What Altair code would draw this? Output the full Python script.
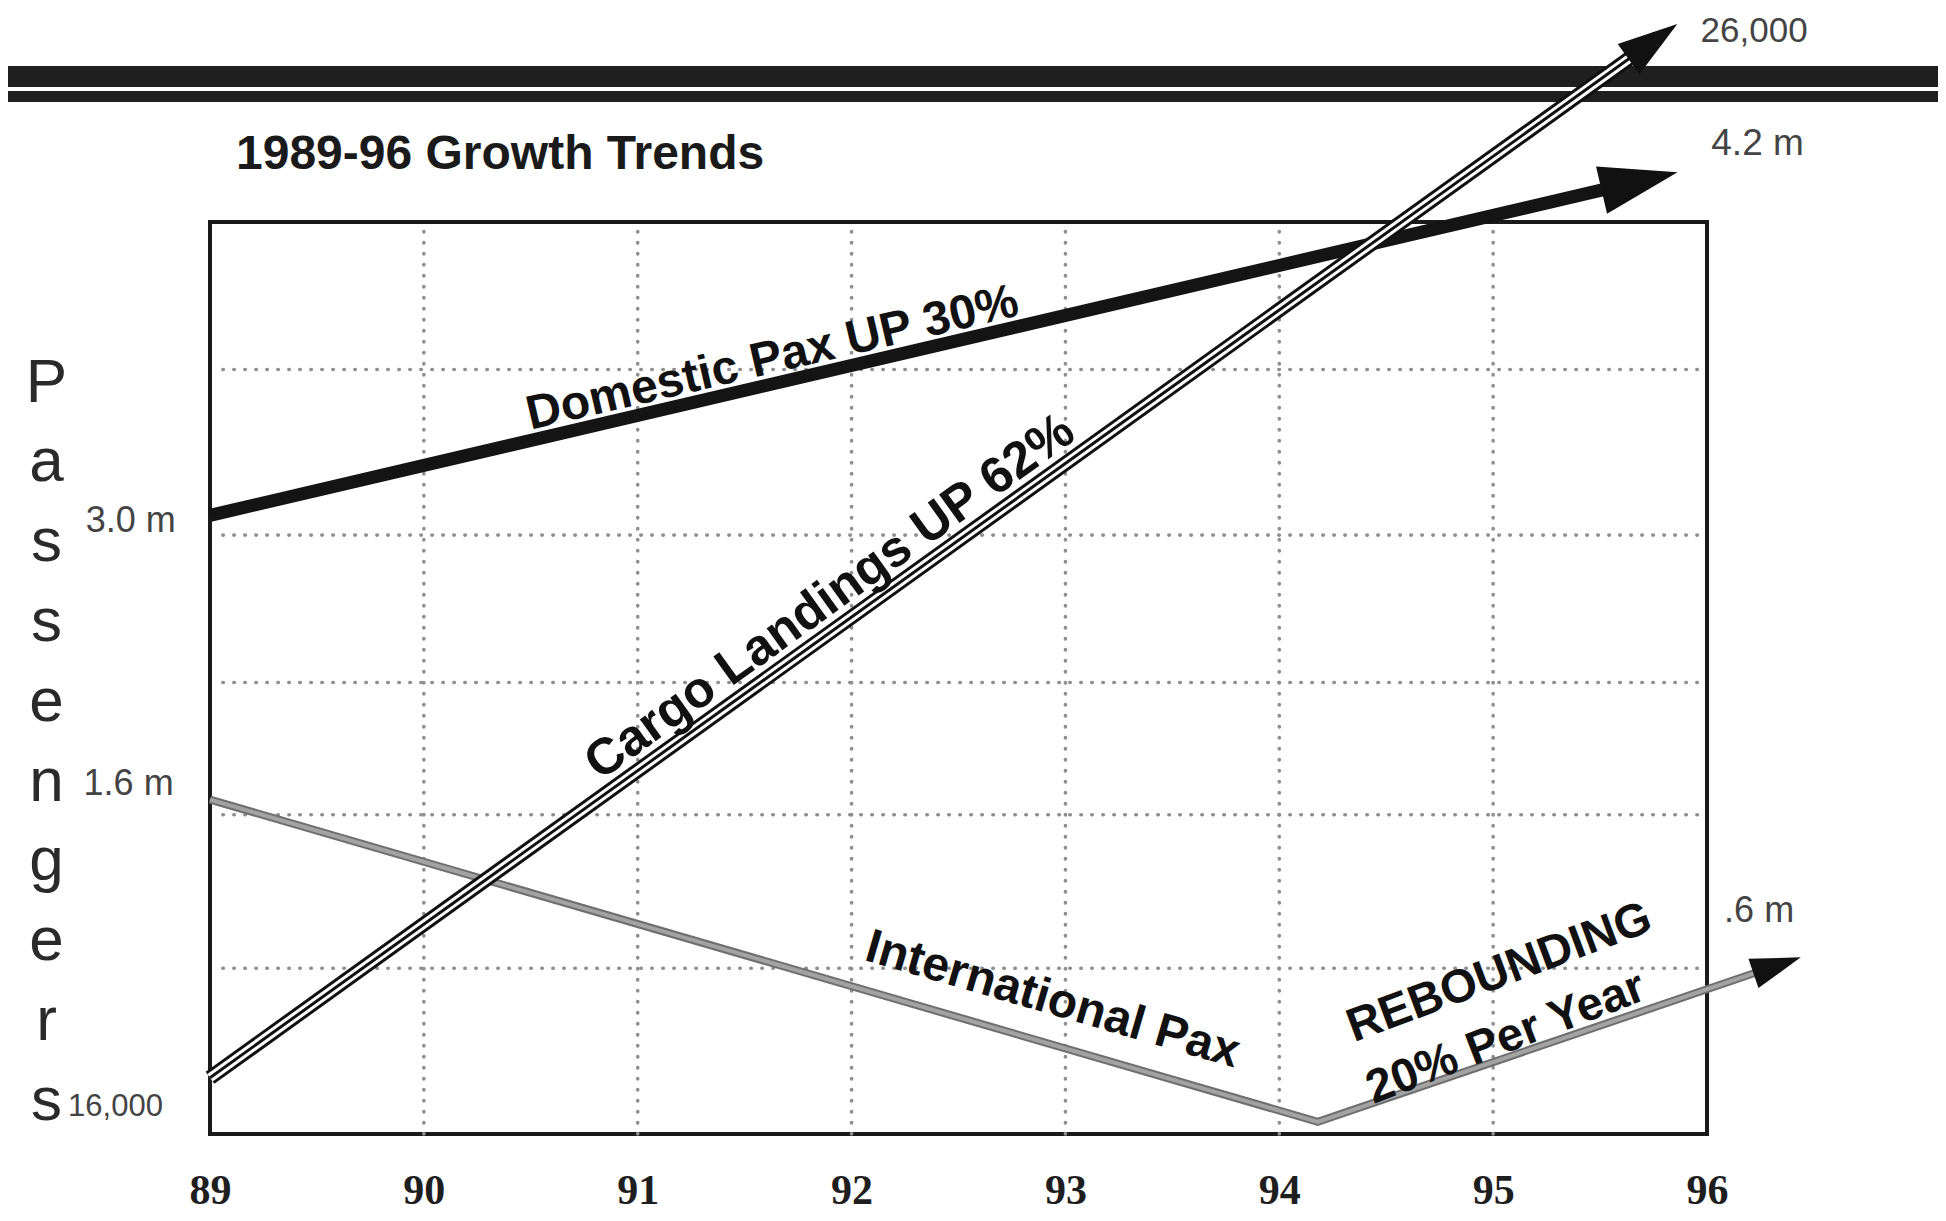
import math
import altair as alt
import pandas as pd

# ---------------- data (y = chart grid units, 0..6) ----------------
year_ticks = [89, 90, 91, 92, 93, 94, 95, 96]
years_grid = [90, 91, 92, 93, 94, 95]
levels_grid = [1.09, 2.10, 2.97, 3.94, 5.03]

domestic_x = [89.0, 95.72]
domestic_y = [4.07, 6.28]
cargo_x = [89.0, 95.77]
cargo_y = [0.37, 7.21]
intl_x = [89.0, 94.18, 96.35]
intl_y = [2.20, 0.08, 1.12]

start_labels = ["3.0 m", "1.6 m", "16,000"]
start_label_x = [88.84, 88.83, 88.78]
start_label_y = [4.03, 2.30, 0.18]
start_label_size = [36, 36, 31]

end_labels = ["26,000", "4.2 m", ".6 m"]
end_label_x = [95.97, 96.02, 96.08]
end_label_y = [7.255, 6.51, 1.47]
end_label_size = [35, 37, 36]

notes = ["Domestic Pax  UP 30%", "Cargo Landings  UP 62%", "International Pax",
         "REBOUNDING", "20% Per Year"]
note_x = [91.63, 91.90, 92.94, 95.03, 95.06]
note_y = [5.10, 3.53, 0.88, 1.06, 0.63]
note_size = [48, 51, 48, 47, 47]
note_tilt = [0.0, 0.0, 0.0, -1.7, -2.2]

band_y = [6.957, 6.826]
band_w = [21, 11]

title_text = "1989-96 Growth Trends"
axis_letters = list("Passengers")

# ---------------- layout ----------------
W, H = 1497, 912
XD, YD = [89, 96], [0, 6]
XS = alt.Scale(domain=XD, nice=False, zero=False)
YS = alt.Scale(domain=YD, nice=False, zero=False)


def px_angle(x0, y0, x1, y1):
    dx = (x1 - x0) * W / (XD[1] - XD[0])
    dy = -(y1 - y0) * H / (YD[1] - YD[0])
    return math.degrees(math.atan2(dy, dx)) % 360


XAXIS = alt.Axis(values=year_ticks, format="d", title=None, grid=False, domain=False,
                 ticks=False, tickSize=0, labelFont="Liberation Serif", labelFontWeight="bold",
                 labelFontSize=42, labelColor="#1e1e1e", labelBaseline="alphabetic",
                 labelPadding=69, labelFlush=False, labelOverlap=False)
YAXIS = alt.Axis(labels=False, ticks=False, domain=False, grid=False,
                 title=axis_letters, titleAngle=0, titleAlign="center",
                 titleBaseline="alphabetic", titleX=-164, titleY=179, titleLineHeight=79.8,
                 titleFont="Liberation Sans", titleFontSize=62, titleFontWeight="normal",
                 titleColor="#2a2a2a")


def X(f):
    return alt.X(f, type="quantitative", scale=XS, axis=XAXIS)


def Y(f):
    return alt.Y(f, type="quantitative", scale=YS, axis=YAXIS)


# ---------------- tables ----------------
rows = []
for name, xs, ys in [("intl", intl_x, intl_y), ("dom", domestic_x, domestic_y),
                     ("cargo", cargo_x, cargo_y)]:
    for i, (a, b) in enumerate(zip(xs, ys)):
        rows.append({"s": name, "i": i, "x": a, "y": b})
series = pd.DataFrame(rows)

ang_dom = px_angle(domestic_x[-2], domestic_y[-2], domestic_x[-1], domestic_y[-1])
ang_cargo = px_angle(cargo_x[-2], cargo_y[-2], cargo_x[-1], cargo_y[-1])
ang_intl_up = px_angle(intl_x[-2], intl_y[-2], intl_x[-1], intl_y[-1])
ang_intl_down = px_angle(intl_x[0], intl_y[0], intl_x[1], intl_y[1])

heads = pd.DataFrame({
    "x": [domestic_x[-1], cargo_x[-1], intl_x[-1]],
    "y": [domestic_y[-1], cargo_y[-1], intl_y[-1]],
    "a": [ang_dom, ang_cargo, ang_intl_up],
    "sz": [6084, 3600, 2500],
})

note_base = [ang_dom, ang_cargo, ang_intl_down, ang_intl_up, ang_intl_up]
notes_df = pd.DataFrame({
    "t": notes, "x": note_x, "y": note_y, "fs": note_size,
    "a": [(b + t) % 360 for b, t in zip(note_base, note_tilt)],
})

starts_df = pd.DataFrame({"t": start_labels, "x": start_label_x, "y": start_label_y,
                          "fs": start_label_size})
ends_df = pd.DataFrame({"t": end_labels, "x": end_label_x, "y": end_label_y,
                        "fs": end_label_size})
title_df = pd.DataFrame({"t": [title_text]})

vgrid = pd.DataFrame({"x": years_grid, "y0": [YD[0]] * len(years_grid),
                      "y1": [YD[1]] * len(years_grid)})
hgrid = pd.DataFrame({"y": levels_grid, "x0": [89.06] * len(levels_grid),
                      "x1": [96.0] * len(levels_grid)})
bands = pd.DataFrame({"y": band_y, "w": band_w, "x0": [88.0, 88.0], "x1": [97.4, 97.4]})

DOT = dict(strokeDash=[0.5, 10.5], strokeCap="round", strokeWidth=3.6, color="#8f8f8f")

vg = alt.Chart(vgrid).mark_rule(**DOT).encode(x=X("x"), y=Y("y0"), y2="y1")
hg = alt.Chart(hgrid).mark_rule(**DOT).encode(y=Y("y"), x=X("x0"), x2="x1")
band = alt.Chart(bands).mark_rule(color="#1f1f1f").encode(
    y=Y("y"), x=X("x0"), x2="x1", strokeWidth=alt.StrokeWidth("w:Q", scale=None))


def line(name, **kw):
    return alt.Chart(series).transform_filter(alt.datum.s == name).mark_line(
        strokeCap="butt", strokeJoin="miter", **kw).encode(
        x=X("x"), y=Y("y"), order="i:Q")


intl_a = line("intl", color="#6f6f6f", strokeWidth=8)
intl_b = line("intl", color="#a3a3a3", strokeWidth=4)
dom = line("dom", color="#141414", strokeWidth=13)
cargo_a = line("cargo", color="#111111", strokeWidth=15)
cargo_b = line("cargo", color="#ffffff", strokeWidth=9)
cargo_c = line("cargo", color="#111111", strokeWidth=3)

arrow_path = "M0.8,0L-1.2,-0.62L-1.2,0.62Z"
arrows = alt.Chart(heads).mark_point(shape=arrow_path, filled=True, color="#111111",
                                     opacity=1, strokeWidth=0).encode(
    x=X("x"), y=Y("y"), angle=alt.Angle("a:Q", scale=None),
    size=alt.Size("sz:Q", scale=None))

note_txt = alt.Chart(notes_df).mark_text(font="Liberation Sans", fontWeight="bold",
                                         align="center", baseline="middle",
                                         color="#111111").encode(
    x=X("x"), y=Y("y"), text="t:N", angle=alt.Angle("a:Q", scale=None),
    size=alt.Size("fs:Q", scale=None))

start_txt = alt.Chart(starts_df).mark_text(font="Liberation Sans", align="right",
                                           baseline="middle", color="#444444").encode(
    x=X("x"), y=Y("y"), text="t:N", size=alt.Size("fs:Q", scale=None))
end_txt = alt.Chart(ends_df).mark_text(font="Liberation Sans", align="left",
                                       baseline="middle", color="#444444").encode(
    x=X("x"), y=Y("y"), text="t:N", size=alt.Size("fs:Q", scale=None))

# chart heading, placed just above the frame (pixel offsets relative to the plot area)
title_txt = alt.Chart(title_df).mark_text(font="Liberation Sans", fontWeight="bold",
                                          fontSize=48, align="left", baseline="alphabetic",
                                          color="#1a1a1a").encode(
    x=alt.value(26), y=alt.value(-53), text="t:N")

chart = alt.layer(
    vg, hg, band, intl_a, intl_b, dom, cargo_a, cargo_b, cargo_c, arrows,
    note_txt, start_txt, end_txt, title_txt,
).properties(
    width=W, height=H,
    background="white",
    autosize=alt.AutoSizeParams(type="none"),
    padding={"left": 202, "top": 214, "right": 231, "bottom": 78},
).configure_view(
    stroke="#1a1a1a", strokeWidth=4
)

chart.save("out.html", embed_options={"renderer": "svg", "actions": False})
